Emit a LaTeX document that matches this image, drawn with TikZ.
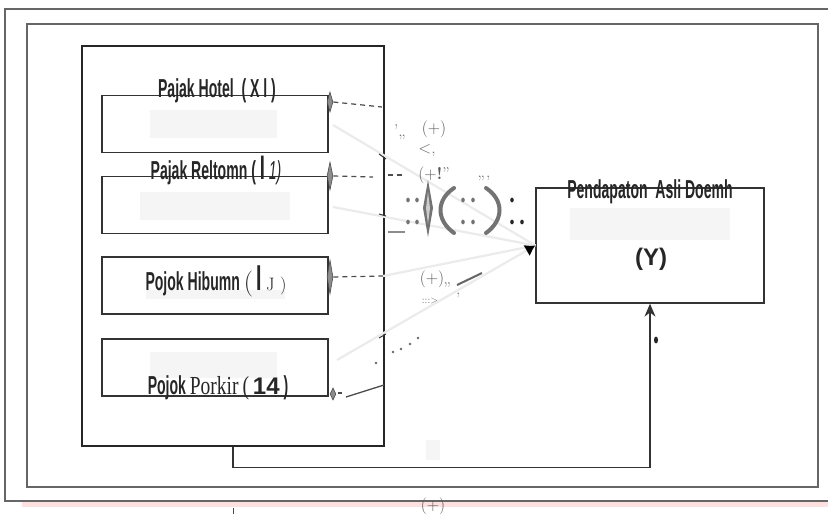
\documentclass[tikz,border=0pt]{standalone}
\usepackage{fontspec}
\newfontfamily\narrowsans[FakeStretch=0.54]{Liberation Sans}
\newfontfamily\narrowserif[FakeStretch=0.75]{Liberation Serif}
\newfontfamily\plainsans{Liberation Sans}
\usetikzlibrary{arrows.meta,shapes.geometric,positioning}

\tikzset{
  frame/.style={draw=black!60,line width=1.4pt},
  varbox/.style={draw=black!80,line width=1.3pt,minimum width=226pt,minimum height=57pt,inner sep=0pt},
  lbl/.style={font=\narrowsans\bfseries\fontsize{26}{26}\selectfont,text=black!85,inner sep=0pt},
  sign/.style={font=\fontsize{17}{17}\selectfont,text=black!65,inner sep=0pt},
  knot/.style={diamond,draw=black!70,fill=black!45,line width=0.6pt,minimum width=6pt,minimum height=20pt,inner sep=0pt,shape aspect=0.3},
  dashline/.style={draw=black!70,line width=1.2pt,dash pattern=on 5pt off 4pt},
  faint/.style={draw=black!8,line width=2.2pt},
  ghost/.style={fill=black!4,draw=none},
  bracket/.style={draw=black!55,line width=4pt,line cap=round}
}

\begin{document}
\begin{tikzpicture}[x=1pt,y=-1pt]
  \useasboundingbox (0,0) rectangle (828,514);
  % page edge and frames
  \fill[red!12] (22,502) rectangle (828,507);
  \draw[frame] (828,9) -- (5,9) -- (5,501) -- (828,501);
  \draw[frame] (27,24) rectangle (818,487);
  \draw[black!70,line width=0.8pt] (233,508) -- (233,514);

  % independent variables
  \node[draw=black!85,line width=1.3pt,minimum width=302pt,minimum height=400pt] (vars) at (233,246) {};
  \node[varbox] (x1) at (215,124) {};
  \node[varbox] (x2) at (215,205) {};
  \node[varbox] (x3) at (215,285.5) {};
  \node[varbox] (x4) at (215,367.5) {};

  % ghost text blocks
  \fill[ghost] (150,110) rectangle (277,138);
  \fill[ghost] (140,192) rectangle (290,220);
  \fill[ghost] (146,290) rectangle (285,299);
  \fill[ghost] (150,352) rectangle (277,378);
  \fill[ghost] (570,208) rectangle (730,240);
  \fill[ghost] (426,440) rectangle (440,460);

  \node[lbl] (l1) at (217,91) {Pajak Hotel \ ( X l )};
  \node[lbl] (l2) at (216,171) {Pajak Reltomn ( {\fontsize{34}{34}\selectfont I} {\mdseries\itshape 1)}};
  \node[lbl] (l3) at (216,281) {Pojok Hibumn {\rmfamily\mdseries (} {\fontsize{36}{36}\selectfont I} {\rmfamily\mdseries\fontsize{18}{18}\selectfont J )}};
  \node[lbl] (l4) at (218,388) {Pojok {\narrowserif\mdseries Porkir} {\narrowserif\mdseries (} {\plainsans\fontsize{24}{24}\selectfont 14} )};

  % dependent variable
  \node[varbox,minimum width=228pt,minimum height=115pt] (pad) at (650,245.5) {};
  \node[lbl] (ly) at (650,192) {Pendapaton\ \ Asli Doemh};
  \node[font=\plainsans\bfseries\fontsize{24}{24}\selectfont,text=black!85,inner sep=0pt] (ytag) at (651,259) {(Y)};

  % knots on the boxes
  \node[knot] (d1) at (330,102) {};
  \node[knot,minimum height=28pt] (d2) at (330,176) {};
  \node[knot,minimum height=34pt] (d3) at (330,277) {};
  \node[knot,minimum height=12pt] (d4) at (333,394) {};

  \coordinate (e1) at (382,107);
  \coordinate (e2) at (373,177);
  \coordinate (e3) at (383,276);
  \draw[dashline] (d1.east) -- (e1);
  \draw[dashline] (d2.east) -- (e2);
  \draw[dashline] (388,175) -- (405,175);
  \draw[dashline] (d3.east) -- (e3);
  \draw[black!70,line width=1.2pt] (338,393) -- (342,393);
  \draw[black!70,line width=1.3pt] (346,397) -- (384,385);

  % faint paths towards Y
  \coordinate (f1) at (333,125);
  \coordinate (f2) at (333,207);
  \coordinate (f3) at (383,276);
  \coordinate (f4) at (337,360);
  \draw[faint] (f1) -- (pad.west);
  \draw[faint] (f2) -- (pad.west);
  \draw[faint] (f3) -- (pad.west);
  \draw[faint,-{Latex[black,length=10pt,width=13pt]}] (f4) -- (pad.west);
  \draw[black!80,line width=1pt] (379,154) -- (386,159);
  \draw[black!80,line width=1pt] (379,214) -- (386,216);
  \draw[black!80,line width=1pt] (379,338) -- (386,334);

  % feedback line
  \draw[black!80,line width=1.3pt,-{Stealth[length=13pt,width=11pt]}] (vars.south) -- ++(0,21) -| (pad.south);
  \fill[black!85] (656,340) ellipse (2pt and 3.5pt);

  % signs and marks in the middle
  \node[sign] (s1) at (434,129) {(+)};
  \node[sign,text=black!60] at (400,132) {',,};
  \node[sign,text=black!60] at (427,151) {<,};
  \node[sign] (s2) at (434,175) {(+\textbf{!}''};
  \node[sign,text=black!60] at (484,178) {,,,};
  \node[sign] (s3) at (432,279) {(+)};
  \node[sign,text=black!60] at (452,290) {'' ,};
  \node[sign,font=\fontsize{10}{10}\selectfont,text=black!60] at (430,301) {:::>};
  \node[sign] (s4) at (433,506) {(+)};

  % big sign group
  \fill[black!55] (428,180) -- (433,208) -- (428,237) -- (423,208) -- cycle;
  \fill[black!20] (428,192) -- (430,208) -- (428,224) -- (426,208) -- cycle;
  \draw[bracket] (454,188) .. controls (436,200) and (436,220) .. (454,233);
  \draw[bracket] (486,188) .. controls (504,200) and (504,220) .. (486,233);
  \foreach \px/\py in {408/200,417/200,408/222,417/222,463/200,473/200,463/222,473/222}
    \fill[black!55] (\px,\py) ellipse (1.8pt and 2.4pt);
  \foreach \px/\py in {512/200,512/222,522/222}
    \fill[black!85] (\px,\py) ellipse (1.8pt and 2.4pt);
  \draw[black!45,line width=2.5pt] (388,232) -- (405,232);
  \draw[black!60,line width=2pt] (457,285) -- (482,273);
  \foreach \px/\py in {376/363,393/352,401/349,410/344,418/338}
    \fill[black!60] (\px,\py) circle (1.3pt);
\end{tikzpicture}
\end{document}
